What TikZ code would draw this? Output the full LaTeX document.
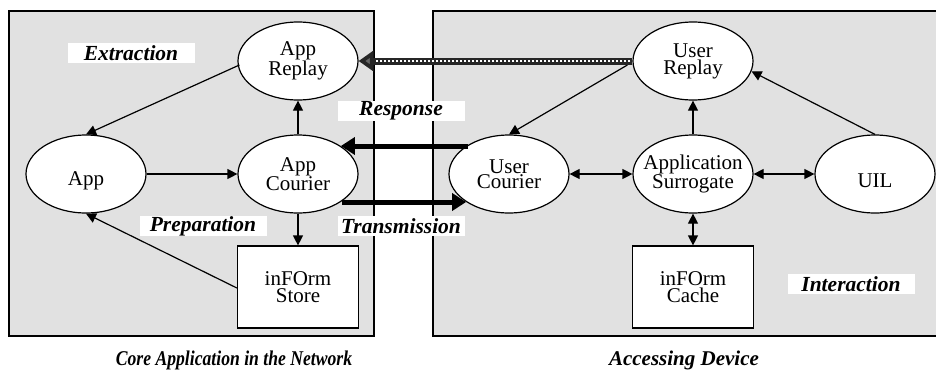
\documentclass[tikz,border=0pt]{standalone}
\usepackage{fontspec}
\setmainfont{Liberation Serif}
\usepackage{tikz}
\usetikzlibrary{shapes.geometric,arrows.meta,positioning}
\definecolor{panelgray}{HTML}{E1E1E1}
\tikzset{
    panel-box/.style = {draw=black, fill=panelgray, line width=1.4bp},
    oval-node/.style = {draw=black, fill=white, ellipse, line width=1.2bp, inner sep=0pt, minimum width=120bp, minimum height=78bp, align=center, font=\fontsize{21bp}{17bp}\selectfont, execute at begin node={\rule{0pt}{28bp}}},
    tight-oval/.style = {oval-node, inner xsep=-12bp, font=\fontsize{21bp}{15bp}\selectfont},
    store-box/.style = {draw=black, fill=white, rectangle, line width=1.2bp, inner sep=0pt, minimum width=121bp, minimum height=82bp, align=center, font=\fontsize{21bp}{17bp}\selectfont, execute at begin node={\rule{0pt}{28bp}}},
    phase-label/.style = {fill=white, inner sep=0pt, minimum width=127bp, minimum height=20bp, font=\fontsize{21.5bp}{20bp}\selectfont\bfseries\itshape},
    side-title/.style = {font=\fontsize{21bp}{20bp}\selectfont\bfseries\itshape},
    flow/.style = {line width=1.2bp, -{Triangle[length=10bp,width=10bp]}},
    both-flow/.style = {line width=1.2bp, {Triangle[length=10bp,width=10bp]}-{Triangle[length=10bp,width=10bp]}},
    big-flow/.style = {line width=5bp, -{Triangle[length=14bp,width=17bp]}},
}

\begin{document}
\begin{tikzpicture}[x=1bp, y=-1bp]
\clip (0,0) rectangle (936,375);

% the two sides
\draw[panel-box] (9,11) rectangle (374,336);
\draw[panel-box] (433,11) rectangle (945,336);

% core application side
\node[oval-node] (app-replay) at (298,61) {App\\Replay};
\node[oval-node] (app) at (86,174) {App};
\node[tight-oval] (app-courier) at (298,174) {App\\Courier};
\node[store-box] (store) at (298,287) {inFOrm\\Store};

% accessing device side
\node[oval-node] (user-replay) at (693,61) {User\\Replay};
\node[tight-oval] (user-courier) at (509,174) {User\\Courier};
\node[tight-oval] (surrogate) at (693,174) {Application\\Surrogate};
\node[oval-node] (uil) at (875,174) {UIL};
\node[store-box] (cache) at (693,287) {inFOrm\\Cache};

% phase labels
\node[phase-label] (extraction) at (131,53) {Extraction};
\node[phase-label] (response) at (401,111) {Response};
\node[phase-label] (preparation) at (203,226) {Preparation};
\node[phase-label] (transmission) at (401,226) {Transmission};
\node[phase-label] (interaction) at (851,284) {Interaction};

\node[side-title] (core-title) at (234,360) {\scalebox{0.84}[1]{Core Application in the Network}};
\node[side-title] (device-title) at (684,360) {Accessing Device};

% connectors
\draw[flow] (app-replay.west) ++(2,4) -- (app.north);
\draw[flow] (app) -- (app-courier);
\draw[flow] (app-courier) -- (app-replay);
\draw[flow] (app-courier) -- (store);
\draw[flow] (store.west) ++(0,1) -- (app.south);

\draw[flow] (user-replay.west) ++(-5,4) -- (user-courier.north);
\draw[flow] (surrogate) -- (user-replay);
\draw[both-flow] (user-courier) -- (surrogate);
\draw[both-flow] (surrogate) -- (uil);
\draw[both-flow] (surrogate) -- (cache);
\draw[flow] (uil.north) -- (user-replay.-10);

\draw[big-flow] (user-courier.north west) ++(2,0) coordinate (resp-start) -- (resp-start -| app-courier.north east);
\draw[big-flow] (app-courier.south east) ++(1,0) coordinate (trans-start) -- (trans-start -| user-courier.south west);

% replay link between the two sides
\draw[line width=7bp, black!85, -{Triangle[length=15bp,width=20bp,fill=black!60]}] (user-replay.west) -- (app-replay.east);
\draw[line width=2bp, white, dash pattern=on 2bp off 2bp] ([xshift=-2bp]user-replay.west) -- ([xshift=17bp]app-replay.east);
\end{tikzpicture}
\end{document}
